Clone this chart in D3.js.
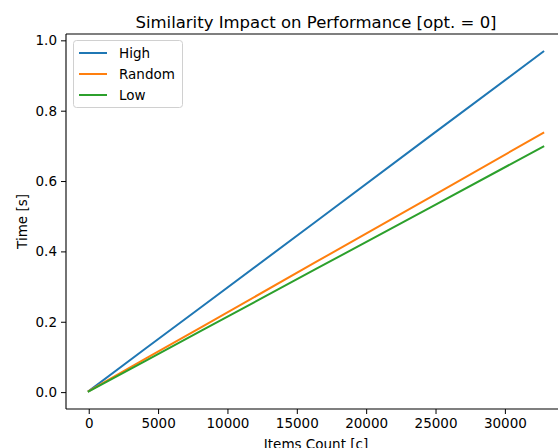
<!DOCTYPE html>
<html><head><meta charset="utf-8">
<script src="https://cdn.jsdelivr.net/npm/d3@7"></script>
<style>
html,body{margin:0;padding:0;background:#fff;overflow:hidden;}
svg{display:block;font-family:"DejaVu Sans",sans-serif;}
</style></head>
<body>
<svg id="chart" width="558" height="448"></svg>
<script>
const xValues = [0, 4096, 8192, 16384, 24576, 32768];
const highValues = [0.003, 0.124, 0.244, 0.485, 0.727, 0.968];
const randomValues = [0.003, 0.095, 0.186, 0.370, 0.553, 0.737];
const lowValues = [0.002, 0.089, 0.176, 0.350, 0.524, 0.698];
const seriesNames = ["High", "Random", "Low"];
const seriesColors = ["#1f77b4", "#ff7f0e", "#2ca02c"];
const xTicks = [0, 5000, 10000, 15000, 20000, 25000, 30000];
const yTicks = [0.0, 0.2, 0.4, 0.6, 0.8, 1.0];

const svg = d3.select("#chart");
const L = 66, T = 34, B = 409, R = 566;
const x = d3.scaleLinear().domain([-1638, 34406]).range([L, R]);
const y = d3.scaleLinear().domain([-0.048, 1.018]).range([B, T]);

const series = [highValues, randomValues, lowValues];

// lines
const line = d3.line().x((d, i) => x(xValues[i])).y(d => y(d));
series.forEach((vals, k) => {
  svg.append("path").datum(vals)
    .attr("d", line)
    .attr("fill", "none")
    .attr("stroke", seriesColors[k])
    .attr("stroke-width", 2)
    .attr("stroke-linecap", "square");
});

// axes
const xAxis = d3.axisBottom(x).tickValues(xTicks).tickFormat(d3.format("d")).tickSize(5).tickPadding(4);
const yAxis = d3.axisLeft(y).tickValues(yTicks).tickFormat(d3.format(".1f")).tickSize(5).tickPadding(4);
const gx = svg.append("g").attr("transform", `translate(0,${B})`).call(xAxis);
const gy = svg.append("g").attr("transform", `translate(${L},0)`).call(yAxis);
[gx, gy].forEach(g => {
  g.select(".domain").remove();
  g.selectAll("text").attr("font-size", 13.5).attr("fill", "#000").attr("font-family", "DejaVu Sans");
  g.selectAll("line").attr("stroke", "#000").attr("stroke-width", 1);
});

// spines
svg.append("line").attr("x1", L).attr("x2", L).attr("y1", T).attr("y2", B).attr("stroke", "#000").attr("stroke-width", 1.1);
svg.append("line").attr("x1", L).attr("x2", R).attr("y1", B).attr("y2", B).attr("stroke", "#000").attr("stroke-width", 1.1);
svg.append("line").attr("x1", L).attr("x2", R).attr("y1", T).attr("y2", T).attr("stroke", "#000").attr("stroke-width", 1.1);
svg.append("line").attr("x1", R).attr("x2", R).attr("y1", T).attr("y2", B).attr("stroke", "#000").attr("stroke-width", 1.1);

// title
svg.append("text").attr("x", 316).attr("y", 28).attr("text-anchor", "middle")
  .attr("font-size", 16.5).attr("fill", "#000").text("Similarity Impact on Performance [opt. = 0]");

// axis labels
svg.append("text").attr("x", 316).attr("y", 449).attr("text-anchor", "middle")
  .attr("font-size", 13.5).attr("fill", "#000").text("Items Count [c]");
svg.append("text").attr("transform", `translate(27,${(T + B) / 2}) rotate(-90)`).attr("text-anchor", "middle")
  .attr("font-size", 13.5).attr("fill", "#000").text("Time [s]");

// legend
const lg = svg.append("g");
lg.append("rect").attr("x", 73.5).attr("y", 40.5).attr("width", 109).attr("height", 67).attr("rx", 3)
  .attr("fill", "#fff").attr("fill-opacity", 0.8).attr("stroke", "#d0d0d0").attr("stroke-width", 1);
seriesNames.forEach((name, k) => {
  const yy = 53 + k * 21;
  lg.append("line").attr("x1", 79).attr("x2", 107).attr("y1", yy).attr("y2", yy)
    .attr("stroke", seriesColors[k]).attr("stroke-width", 2);
  lg.append("text").attr("x", 119).attr("y", yy + 5).attr("font-size", 13.5).attr("fill", "#000").text(name);
});
</script>
</body></html>
